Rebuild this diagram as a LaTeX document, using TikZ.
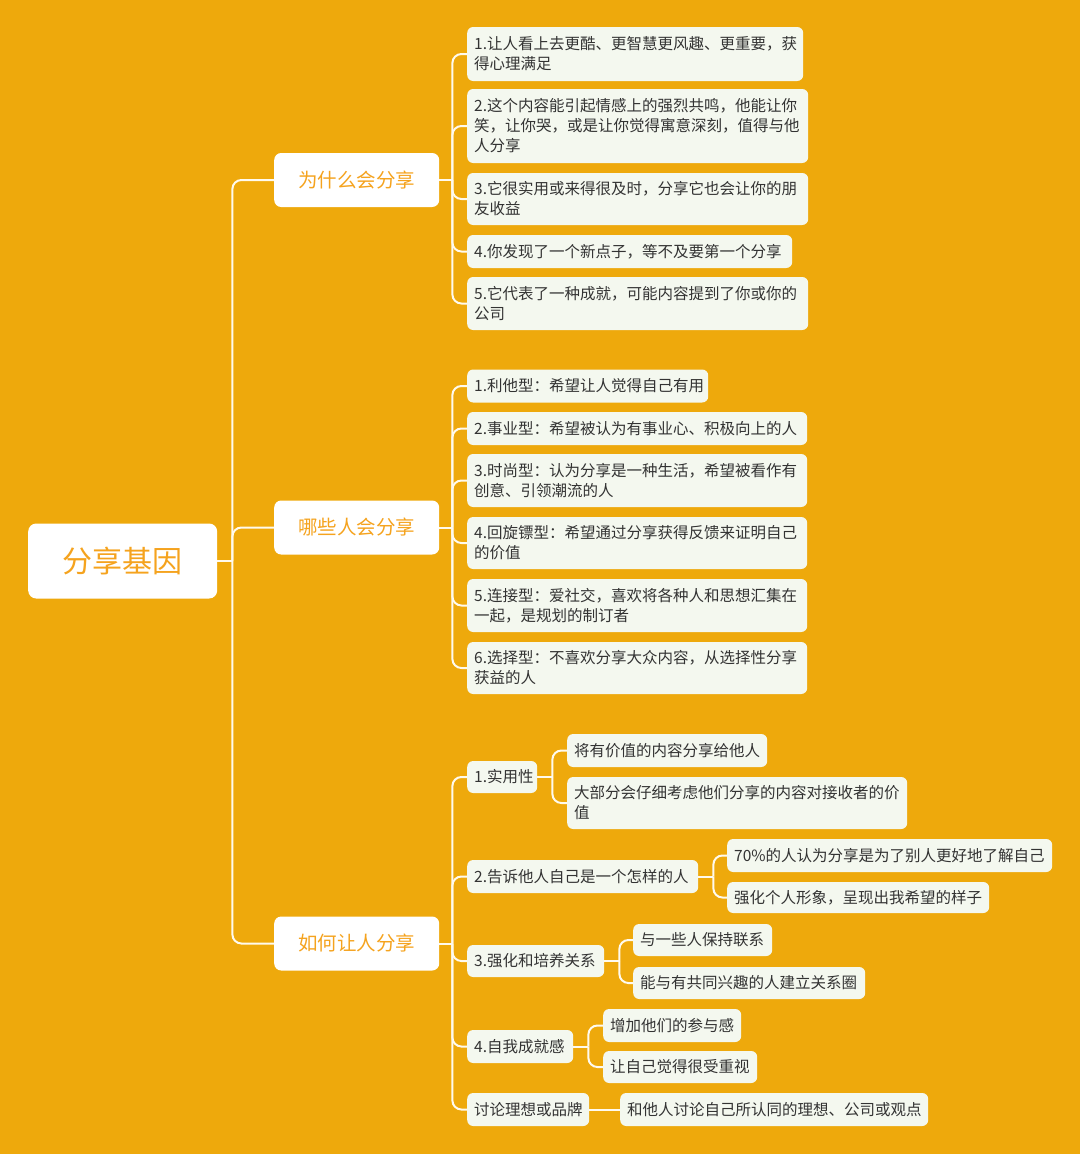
\documentclass[tikz,border=0pt]{standalone}
\usepackage{fontspec}
\setmainfont{Noto Sans CJK SC}
\definecolor{bg}{RGB}{238,169,12}
\definecolor{leaffill}{RGB}{244,248,239}
\definecolor{leaftext}{RGB}{51,51,51}
\definecolor{orangetext}{RGB}{245,163,30}
\definecolor{linecol}{RGB}{255,250,238}
\begin{document}
\begin{tikzpicture}[x=1pt,y=-1pt,
  rootbox/.style={draw=none,fill=white,rounded corners=8pt,anchor=west,align=center,
    text=orangetext,font=\fontsize{30}{36}\selectfont,inner sep=0pt},
  catbox/.style={draw=none,fill=white,rounded corners=7pt,anchor=west,align=center,
    text=orangetext,font=\fontsize{19.5}{24}\selectfont,inner sep=0pt,minimum width=165pt,minimum height=54pt},
  leafbox/.style={draw=none,fill=leaffill,rounded corners=6pt,anchor=west,align=left,
    text=leaftext,font=\fontsize{15.5}{20}\selectfont,inner xsep=7pt,inner ysep=0pt},
  conn/.style={draw=linecol,line width=2pt,rounded corners=9pt}]
\useasboundingbox (0,0) rectangle (1080,1154);
\fill[bg] (0,0) rectangle (1080,1154);

% root and categories
\node[rootbox,minimum width=189pt,minimum height=75pt] (root) at (28,561) {分享基因};
\node[catbox] (c1) at (274,180) {为什么会分享};
\node[catbox] (c2) at (274,527.5) {哪些人会分享};
\node[catbox] (c3) at (274,943.5) {如何让人分享};

% group 1
\node[leafbox,text width=322pt,minimum height=54pt] (g1a) at (467,54) {1.让人看上去更酷、更智慧更风趣、更重要，获\\得心理满足};
\node[leafbox,text width=327pt,minimum height=74pt] (g1b) at (467,126) {2.这个内容能引起情感上的强烈共鸣，他能让你\\笑，让你哭，或是让你觉得寓意深刻，值得与他\\人分享};
\node[leafbox,text width=327pt,minimum height=52pt] (g1c) at (467,199) {3.它很实用或来得很及时，分享它也会让你的朋\\友收益};
\node[leafbox,text width=311pt,minimum height=33pt] (g1d) at (467,251.5) {4.你发现了一个新点子，等不及要第一个分享};
\node[leafbox,text width=327pt,minimum height=53pt] (g1e) at (467,303.5) {5.它代表了一种成就，可能内容提到了你或你的\\公司};

% group 2
\node[leafbox,text width=227pt,minimum height=33pt] (g2a) at (467,386) {1.利他型：希望让人觉得自己有用};
\node[leafbox,text width=326pt,minimum height=33pt] (g2b) at (467,428.5) {2.事业型：希望被认为有事业心、积极向上的人};
\node[leafbox,text width=326pt,minimum height=53pt] (g2c) at (467,480.5) {3.时尚型：认为分享是一种生活，希望被看作有\\创意、引领潮流的人};
\node[leafbox,text width=326pt,minimum height=52pt] (g2d) at (467,543) {4.回旋镖型：希望通过分享获得反馈来证明自己\\的价值};
\node[leafbox,text width=326pt,minimum height=53pt] (g2e) at (467,605.5) {5.连接型：爱社交，喜欢将各种人和思想汇集在\\一起，是规划的制订者};
\node[leafbox,text width=326pt,minimum height=52pt] (g2f) at (467,668) {6.选择型：不喜欢分享大众内容，从选择性分享\\获益的人};

% group 3 level 2
\node[leafbox,text width=56pt,minimum height=32pt] (s1) at (467,777) {1.实用性};
\node[leafbox,text width=217pt,minimum height=33pt] (s2) at (467,876.5) {2.告诉他人自己是一个怎样的人};
\node[leafbox,text width=123pt,minimum height=32pt] (s3) at (467,961) {3.强化和培养关系};
\node[leafbox,text width=92pt,minimum height=33pt] (s4) at (467,1046.5) {4.自我成就感};
\node[leafbox,text width=108pt,minimum height=33pt] (s5) at (467,1109.5) {讨论理想或品牌};

% group 3 level 3
\node[leafbox,text width=186pt,minimum height=33pt] (t11) at (567,750.5) {将有价值的内容分享给他人};
\node[leafbox,text width=326pt,minimum height=52pt] (t12) at (567,803) {大部分会仔细考虑他们分享的内容对接收者的价\\值};
\node[leafbox,text width=311pt,minimum height=33pt] (t21) at (727,855.5) {70\%的人认为分享是为了别人更好地了解自己};
\node[leafbox,text width=248pt,minimum height=31pt] (t22) at (727,897.5) {强化个人形象，呈现出我希望的样子};
\node[leafbox,text width=125pt,minimum height=32pt] (t31) at (633,940) {与一些人保持联系};
\node[leafbox,text width=218pt,minimum height=32pt] (t32) at (633,983) {能与有共同兴趣的人建立关系圈};
\node[leafbox,text width=124pt,minimum height=33pt] (t41) at (603,1025.5) {增加他们的参与感};
\node[leafbox,text width=140pt,minimum height=32pt] (t42) at (603,1067) {让自己觉得很受重视};
\node[leafbox,text width=294pt,minimum height=33pt] (t51) at (620,1109.5) {和他人讨论自己所认同的理想、公司或观点};

% junctions
\coordinate (jr) at ([xshift=15pt]root.east);
\coordinate (j1) at ([xshift=13pt]c1.east);
\coordinate (j2) at ([xshift=13pt]c2.east);
\coordinate (j3) at ([xshift=13pt]c3.east);
\coordinate (k1) at ([xshift=15pt]s1.east);
\coordinate (k2) at ([xshift=15pt]s2.east);
\coordinate (k3) at ([xshift=15pt]s3.east);
\coordinate (k4) at ([xshift=15pt]s4.east);

% connectors
\draw[conn] (root.east) -- (jr);
\foreach \c in {c1,c2,c3} \draw[conn] (jr) |- (\c.west);
\draw[conn] (c1.east) -- (j1);
\foreach \c in {g1a,g1b,g1c,g1d,g1e} \draw[conn] (j1) |- (\c.west);
\draw[conn] (c2.east) -- (j2);
\foreach \c in {g2a,g2b,g2c,g2d,g2e,g2f} \draw[conn] (j2) |- (\c.west);
\draw[conn] (c3.east) -- (j3);
\foreach \c in {s1,s2,s3,s4,s5} \draw[conn] (j3) |- (\c.west);
\draw[conn] (s1.east) -- (k1);
\foreach \c in {t11,t12} \draw[conn] (k1) |- (\c.west);
\draw[conn] (s2.east) -- (k2);
\foreach \c in {t21,t22} \draw[conn] (k2) |- (\c.west);
\draw[conn] (s3.east) -- (k3);
\foreach \c in {t31,t32} \draw[conn] (k3) |- (\c.west);
\draw[conn] (s4.east) -- (k4);
\foreach \c in {t41,t42} \draw[conn] (k4) |- (\c.west);
\draw[conn] (s5.east) -- (t51.west);
\end{tikzpicture}
\end{document}
